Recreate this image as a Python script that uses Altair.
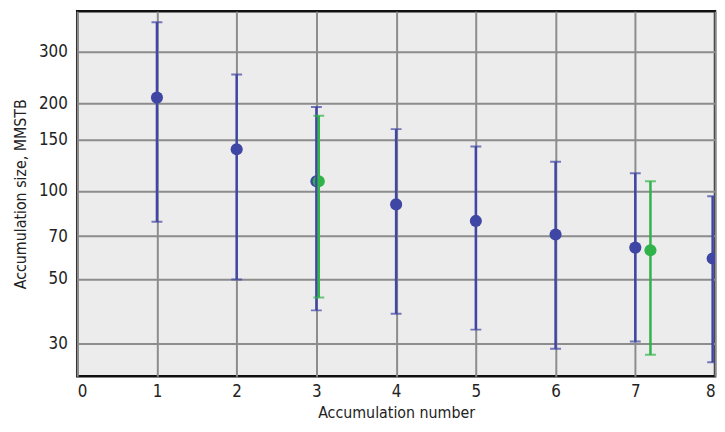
import altair as alt
import pandas as pd

series = ["blue", "blue", "blue", "green", "blue", "blue", "blue", "blue", "green", "blue"]
xpos = [1, 2, 3, 3.03, 4, 5, 6, 7, 7.19, 7.97]
mid = [209, 139, 108, 108, 90, 79, 71, 64, 62.7, 58.7]
low = [78.5, 49.8, 39, 43.2, 38, 33.5, 28.8, 30.5, 27.5, 25.9]
high = [379, 251, 194, 181, 163, 142, 126, 115, 108, 96]

y_ticks = [30, 50, 70, 100, 150, 200, 300]
x_ticks = [0, 1, 2, 3, 4, 5, 6, 7, 8]

df = pd.DataFrame({"x": xpos, "mid": mid, "low": low, "high": high, "series": series})

FONT = "'DejaVu Sans Condensed', 'Roboto Condensed', 'Liberation Sans Narrow', 'Arial Narrow', Roboto, sans-serif"
xscale = alt.Scale(domain=[0, 8], nice=False)
yscale = alt.Scale(type="log", domain=[23.2, 413], nice=False)
color = alt.Color("series:N", scale=alt.Scale(domain=["blue", "green"], range=["#3f46a3", "#2fb34a"]), legend=None)
bar_color = alt.Color("series:N", scale=alt.Scale(domain=["blue", "green"], range=["#4e53aa", "#3cb850"]), legend=None)

xaxis = alt.X("x:Q", scale=xscale, title="Accumulation number",
              axis=alt.Axis(values=x_ticks, format="d", grid=True, gridColor="#8c8c8c", gridWidth=2,
                            ticks=False, domain=False, labelPadding=8, titlePadding=5))
yaxis = alt.Y("mid:Q", scale=yscale, title="Accumulation size, MMSTB",
              axis=alt.Axis(values=y_ticks, format="d", grid=True, gridColor="#8c8c8c", gridWidth=2,
                            ticks=False, domain=False, labelPadding=10, titlePadding=10))

base = alt.Chart(df)

rules = base.mark_rule(strokeWidth=2.5, clip=True).encode(
    x=alt.X("x:Q", scale=xscale),
    y=alt.Y("low:Q", scale=yscale),
    y2="high:Q",
    color=bar_color,
)
caps_hi = base.mark_tick(orient="horizontal", size=11, thickness=2, clip=True).encode(
    x=alt.X("x:Q", scale=xscale),
    y=alt.Y("high:Q", scale=yscale),
    color=bar_color,
)
caps_lo = base.mark_tick(orient="horizontal", size=11, thickness=2, clip=True).encode(
    x=alt.X("x:Q", scale=xscale),
    y=alt.Y("low:Q", scale=yscale),
    color=bar_color,
)
points = base.mark_point(filled=True, shape="circle", size=150, opacity=1, clip=True).encode(
    x=xaxis,
    y=yaxis,
    color=color,
)

chart = alt.layer(points, rules, caps_hi, caps_lo).properties(
    width=645, height=369,
    autosize=alt.AutoSizeParams(type="none"),
    padding={"left": 70, "top": 1, "right": 2, "bottom": 46},
    background="white",
).configure_view(
    fill="#ececec", stroke="#111111", strokeWidth=2.5,
).configure_axis(
    labelFont=FONT, titleFont=FONT, labelFontSize=17, titleFontSize=16,
    labelColor="#222222", titleColor="#222222", titleFontWeight="normal",
)

chart.save("out.html", embed_options={"renderer": "svg", "actions": False})
